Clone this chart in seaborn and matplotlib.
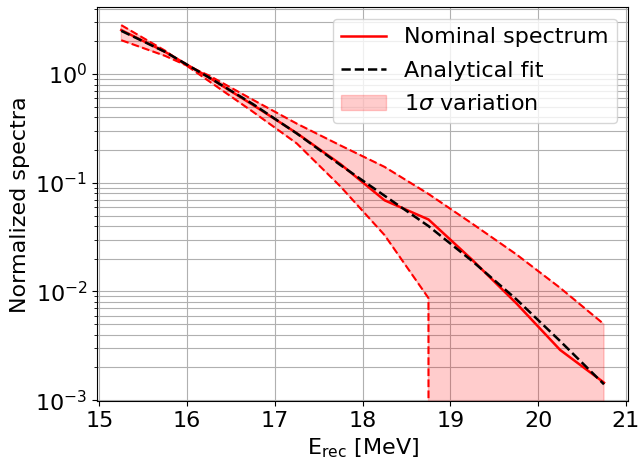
import matplotlib
matplotlib.use("Agg")
import matplotlib.pyplot as plt
import numpy as np
import pandas as pd
import seaborn as sns

# bin centres [MeV]
energy = [15.25, 15.75, 16.25, 16.75, 17.25, 17.75, 18.25, 18.75, 19.25, 19.75, 20.25, 20.75]

nominal = [2.54, 1.60, 0.93, 0.52, 0.286, 0.148, 0.069, 0.046, 0.0195, 0.0078, 0.0029, 0.00145]
fit = [2.50, 1.60, 0.93, 0.53, 0.284, 0.145, 0.076, 0.040, 0.019, 0.0085, 0.0035, 0.0014]
# +/- 1 sigma variations (soft one drops to zero above 18.75 MeV)
var_hard = [2.05, 1.47, 0.97, 0.58, 0.35, 0.22, 0.14, 0.079, 0.042, 0.022, 0.0108, 0.005]
var_soft = [2.82, 1.64, 0.86, 0.45, 0.23, 0.092, 0.033, 0.0087, 0.0, 0.0, 0.0, 0.0]

df = pd.DataFrame({'E': energy, 'nominal': nominal, 'fit': fit,
                   'hard': var_hard, 'soft': var_soft})

fig = plt.figure(figsize=(6.39, 4.67), dpi=100)
ax = fig.add_axes([0.152, 0.141, 0.831, 0.843])

ax.fill_between(df['E'], df['soft'], df['hard'], color='red', alpha=0.2,
                label=r'1$\sigma$ variation')
sns.lineplot(x='E', y='hard', data=df, ax=ax, color='red', linestyle='--', lw=1.5)
sns.lineplot(x='E', y='soft', data=df, ax=ax, color='red', linestyle='--', lw=1.5)
sns.lineplot(x='E', y='nominal', data=df, ax=ax, color='red', lw=1.8,
             label='Nominal spectrum')
sns.lineplot(x='E', y='fit', data=df, ax=ax, color='black', linestyle='--', lw=1.8,
             label='Analytical fit')

ax.set_yscale('log')
ax.set_ylim(9.8e-4, 4.1)
ax.set_xticks([15, 16, 17, 18, 19, 20, 21])
ax.grid(True, which='both', color='#b0b0b0', lw=0.8)
ax.set_axisbelow(True)

ax.set_xlabel(r'E$_{\rm rec}$ [MeV]', fontsize=16)
ax.set_ylabel('Normalized spectra', fontsize=16)
ax.tick_params(labelsize=16)

h, l = ax.get_legend_handles_labels()
order = [l.index('Nominal spectrum'), l.index('Analytical fit'), l.index(r'1$\sigma$ variation')]
ax.legend([h[i] for i in order], [l[i] for i in order], loc='upper right', fontsize=16,
          labelspacing=0.6)

fig.savefig('out.png', dpi=100)
